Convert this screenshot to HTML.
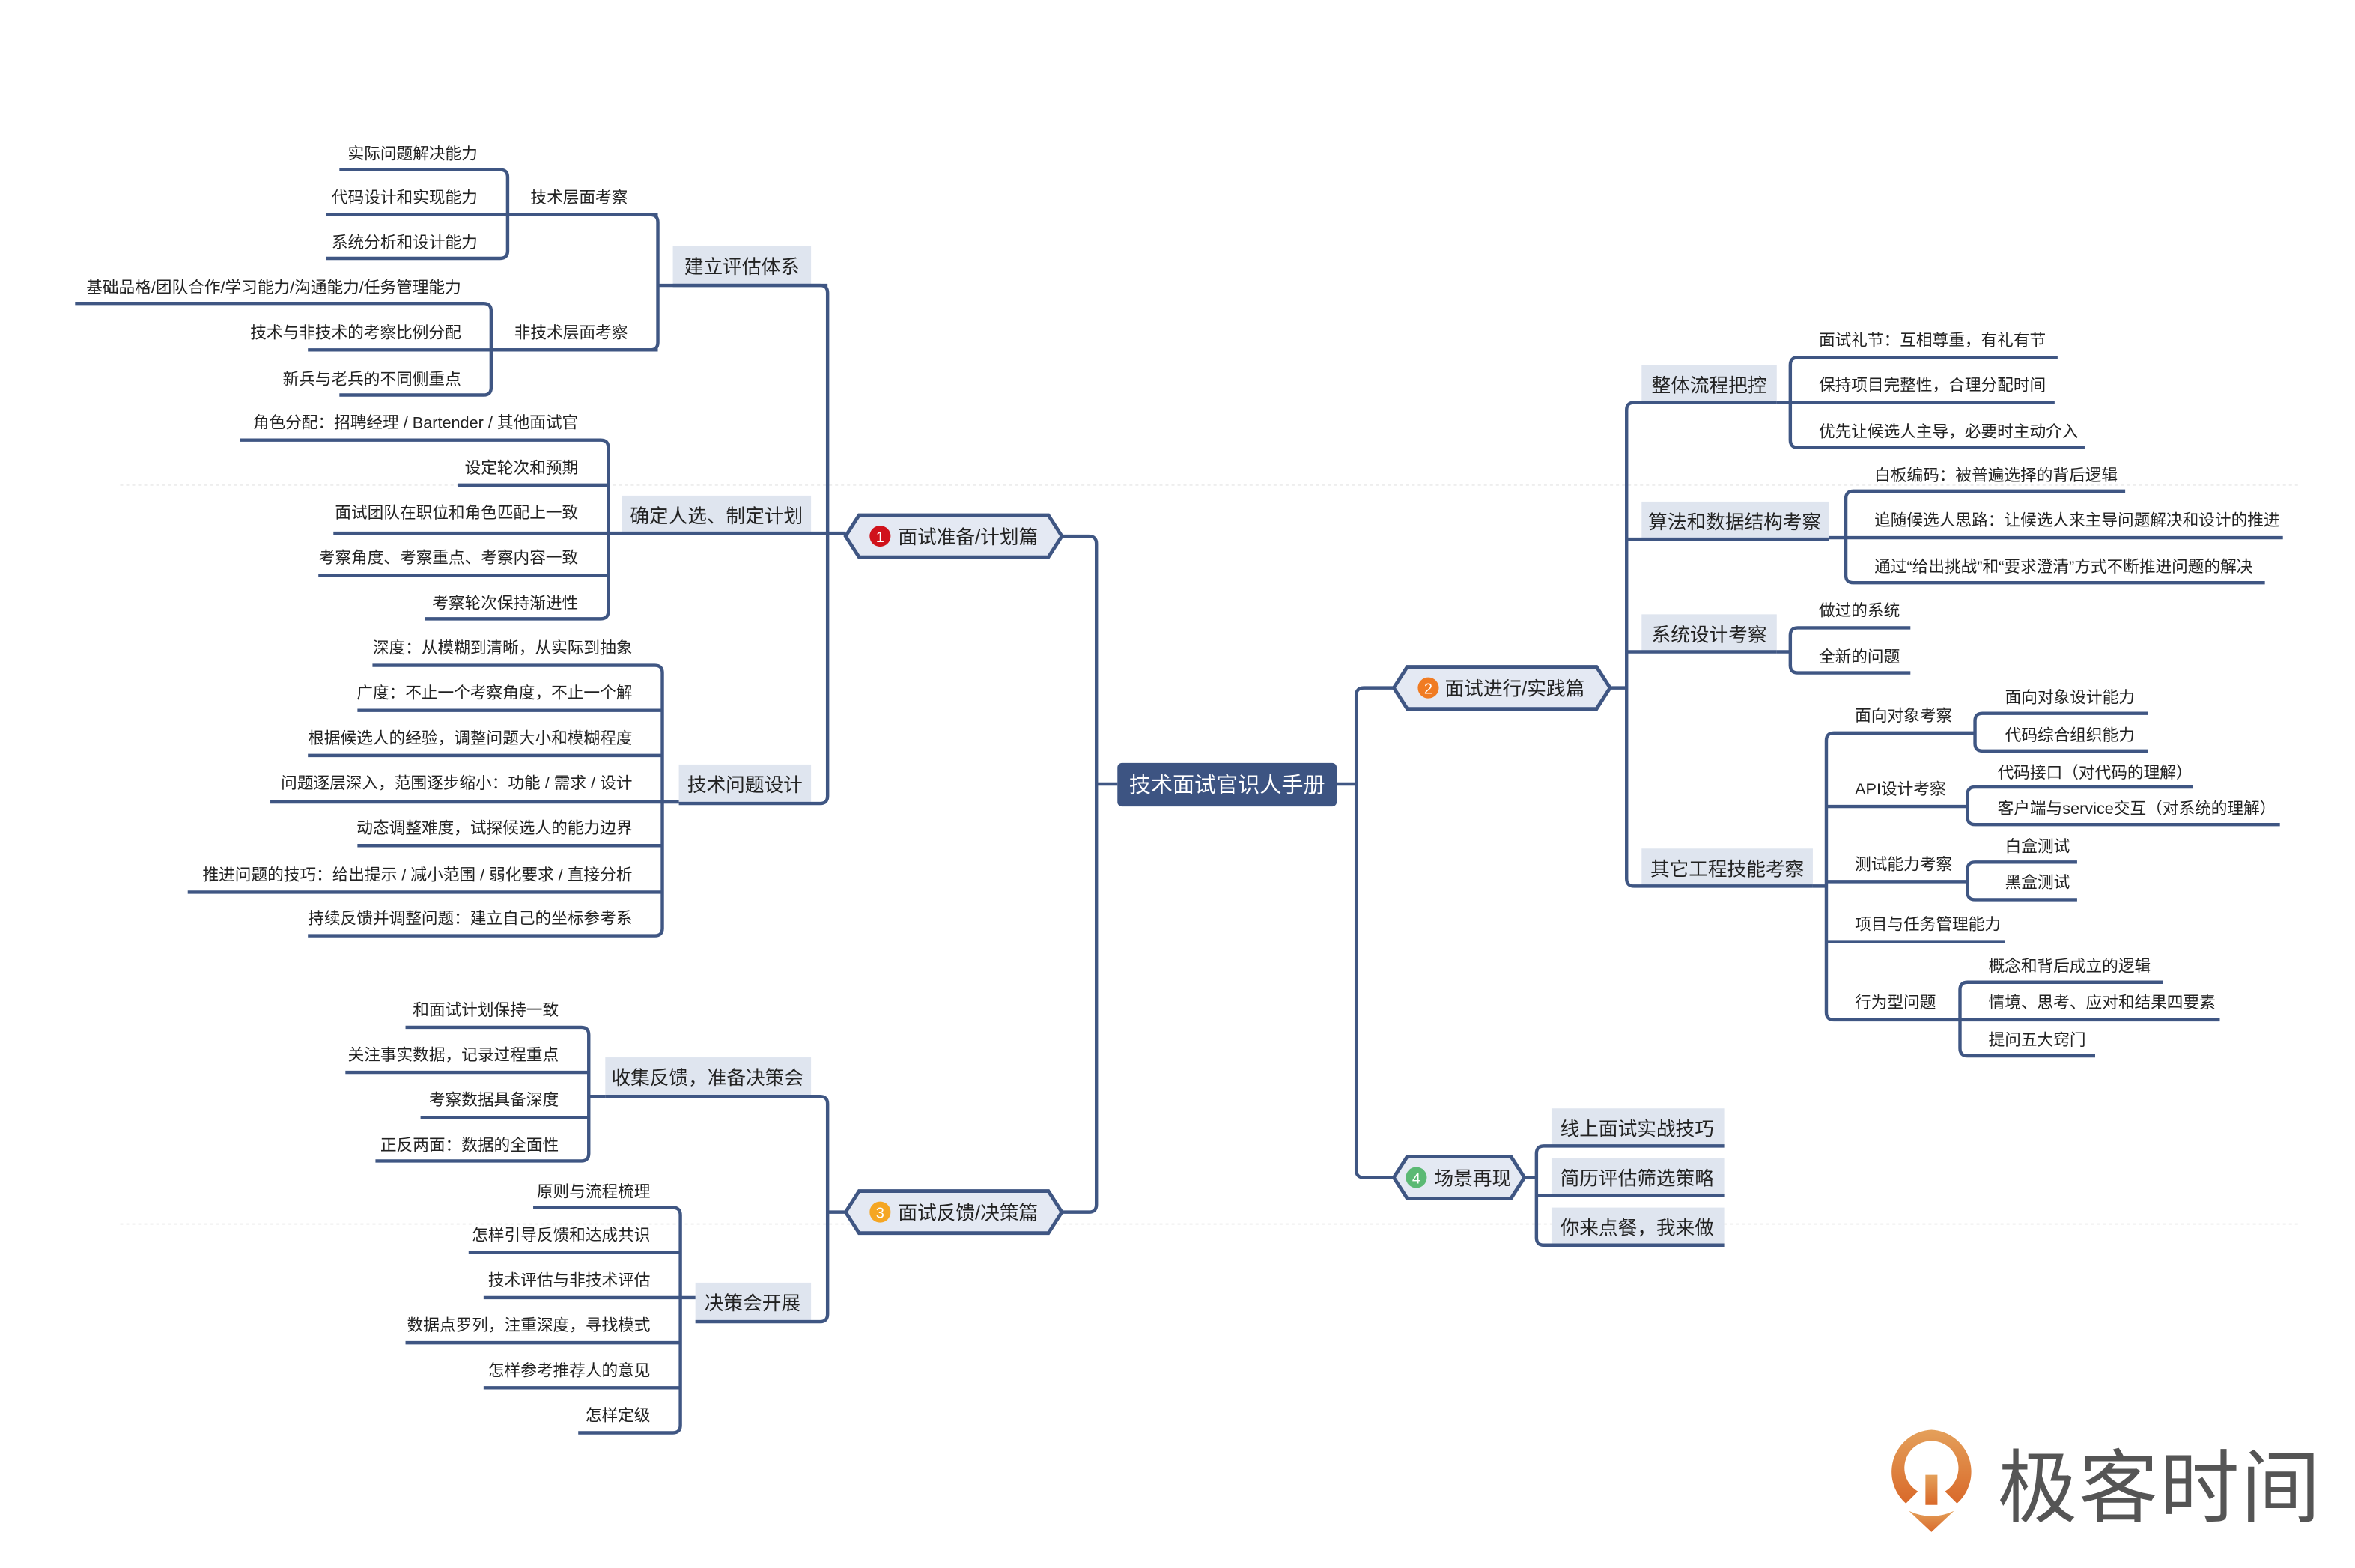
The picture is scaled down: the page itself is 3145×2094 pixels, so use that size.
<!DOCTYPE html>
<html><head><meta charset="utf-8"><style>
html,body{margin:0;padding:0;background:#fff;}
svg{display:block;}
text{font-family:"Liberation Sans","Noto Sans CJK SC",sans-serif;fill:#222;}
.l{font-size:10.8px;}
.b{font-size:12.8px;}
.ln{stroke:#3f5683;stroke-width:2.2;fill:none;}
.bx{fill:#dfe5ef;}
.hx{fill:#e4e9f3;stroke:#3f5683;stroke-width:2.4;}
</style></head><body>
<svg width="3145" height="2094" viewBox="0 0 1568 1044" preserveAspectRatio="none" xmlns="http://www.w3.org/2000/svg">
<line x1="80" y1="323" x2="1530" y2="323" stroke="#eee" stroke-width="1" stroke-dasharray="2,2"/>
<line x1="80" y1="815" x2="1530" y2="815" stroke="#eee" stroke-width="1" stroke-dasharray="2,2"/>

<rect class="bx" x="448" y="164" width="92" height="26"/>
<rect class="bx" x="414" y="330" width="126" height="26"/>
<rect class="bx" x="452" y="509" width="88" height="26"/>
<rect class="bx" x="403" y="704" width="137" height="26"/>
<rect class="bx" x="463" y="854" width="77" height="26"/>
<rect class="bx" x="1093" y="243" width="90" height="25"/>
<rect class="bx" x="1093" y="334" width="125" height="25"/>
<rect class="bx" x="1093" y="409" width="90" height="25"/>
<rect class="bx" x="1093" y="565" width="114" height="25"/>
<rect class="bx" x="1033" y="738" width="115" height="25"/>
<rect class="bx" x="1033" y="771" width="115" height="25"/>
<rect class="bx" x="1033" y="804" width="115" height="25"/>

<g class="ln">
<path d="M226,113 H333 Q338,113 338,118 V167 Q338,172 333,172 H217 M217,143 H438"/>
<path d="M50,202 H322 Q327,202 327,207 V258 Q327,263 322,263 H226 M205,233 H438"/>
<path d="M335,143 H433 Q438,143 438,148 V228 Q438,233 433,233 H328 M438,190 H551"/>
<path d="M448,190 H546 Q551,190 551,195 V530 Q551,535 546,535 H452 M405,355 H563"/>
<path d="M707,357 H725 Q730,357 730,362 V802 Q730,807 725,807 H707 M730,522 H744"/>
<path d="M160,293 H400 Q405,293 405,298 V407 Q405,412 400,412 H283 M305,323 H405 M222,355 H405 M212,383 H405"/>
<path d="M248,443 H436 Q441,443 441,448 V618 Q441,623 436,623 H205 M238,473 H441 M205,503 H441 M180,534 H452 M238,563 H441 M125,594 H441"/>
<path d="M563,807 H551 M403,730 H546 Q551,730 551,735 V875 Q551,880 546,880 H463"/>
<path d="M270,684 H387 Q392,684 392,689 V768 Q392,773 387,773 H250 M230,714 H392 M280,744 H392 M392,730 H403"/>
<path d="M355,804 H448 Q453,804 453,809 V949 Q453,954 448,954 H385 M312,834 H453 M322,864 H463 M270,894 H453 M322,924 H453"/>
<path d="M890,522 H903 M928,458 H908 Q903,458 903,463 V779 Q903,784 908,784 H928"/>
<path d="M1072,458 H1083 M1183,268 H1088 Q1083,268 1083,273 V585 Q1083,590 1088,590 H1207 M1083,359 H1218 M1083,434 H1183"/>
<path d="M1370,238 H1197 Q1192,238 1192,243 V293 Q1192,298 1197,298 H1388 M1183,268 H1368"/>
<path d="M1415,327 H1234 Q1229,327 1229,332 V383 Q1229,388 1234,388 H1508 M1218,358 H1520"/>
<path d="M1272,418 H1197 Q1192,418 1192,423 V443 Q1192,448 1197,448 H1272 M1183,434 H1192"/>
<path d="M1207,590 H1216 M1305,488 H1221 Q1216,488 1216,493 V674 Q1216,679 1221,679 H1305 M1216,537 H1310 M1216,587 H1310 M1216,627 H1335"/>
<path d="M1430,475 H1320 Q1315,475 1315,480 V495 Q1315,500 1320,500 H1430 M1305,488 H1315"/>
<path d="M1460,524 H1315 Q1310,524 1310,529 V544 Q1310,549 1315,549 H1518"/>
<path d="M1383,574 H1315 Q1310,574 1310,579 V594 Q1310,599 1315,599 H1383"/>
<path d="M1440,654 H1310 Q1305,654 1305,659 V698 Q1305,703 1310,703 H1395 M1305,679 H1478"/>
<path d="M1015,784 H1023 M1148,763 H1028 Q1023,763 1023,768 V824 Q1023,829 1028,829 H1148 M1023,796 H1148"/>
</g>

<rect x="744" y="508" width="146" height="29" rx="3" fill="#3d5482"/>
<text x="817" y="527.5" text-anchor="middle" style="font-size:14.5px;fill:#fff">技术面试官识人手册</text>

<polygon class="hx" points="563,357 572,343 698,343 707,357 698,371 572,371"/>
<circle cx="586" cy="357" r="7" fill="#d0121b"/><text x="586" y="361" text-anchor="middle" style="font-size:10px;fill:#fff">1</text>
<text x="598" y="362" class="b">面试准备/计划篇</text>
<polygon class="hx" points="928,458 937,444 1063,444 1072,458 1063,472 937,472"/>
<circle cx="951" cy="458" r="7" fill="#f07b22"/><text x="951" y="462" text-anchor="middle" style="font-size:10px;fill:#fff">2</text>
<text x="962" y="463" class="b">面试进行/实践篇</text>
<polygon class="hx" points="563,807 572,793 698,793 707,807 698,821 572,821"/>
<circle cx="586" cy="807" r="7" fill="#f5a623"/><text x="586" y="811" text-anchor="middle" style="font-size:10px;fill:#fff">3</text>
<text x="598" y="812" class="b">面试反馈/决策篇</text>
<polygon class="hx" points="928,784 937,770 1006,770 1015,784 1006,798 937,798"/>
<circle cx="943" cy="784" r="7" fill="#5bb974"/><text x="943" y="788" text-anchor="middle" style="font-size:10px;fill:#fff">4</text>
<text x="955" y="789" class="b">场景再现</text>

<g class="b" text-anchor="middle">
<text x="494" y="182">建立评估体系</text>
<text x="477" y="348">确定人选、制定计划</text>
<text x="496" y="527">技术问题设计</text>
<text x="471" y="722">收集反馈，准备决策会</text>
<text x="501" y="872">决策会开展</text>
<text x="1138" y="261">整体流程把控</text>
<text x="1155" y="352">算法和数据结构考察</text>
<text x="1138" y="427">系统设计考察</text>
<text x="1150" y="583">其它工程技能考察</text>
<text x="1090" y="756">线上面试实战技巧</text>
<text x="1090" y="789">简历评估筛选策略</text>
<text x="1090" y="822">你来点餐，我来做</text>
</g>

<g class="l" text-anchor="end">
<text x="318" y="106">实际问题解决能力</text>
<text x="318" y="135">代码设计和实现能力</text>
<text x="318" y="165">系统分析和设计能力</text>
<text x="418" y="135">技术层面考察</text>
<text x="307" y="195">基础品格/团队合作/学习能力/沟通能力/任务管理能力</text>
<text x="307" y="225">技术与非技术的考察比例分配</text>
<text x="307" y="256">新兵与老兵的不同侧重点</text>
<text x="418" y="225">非技术层面考察</text>
<text x="385" y="285">角色分配：招聘经理 / Bartender / 其他面试官</text>
<text x="385" y="315">设定轮次和预期</text>
<text x="385" y="345">面试团队在职位和角色匹配上一致</text>
<text x="385" y="375">考察角度、考察重点、考察内容一致</text>
<text x="385" y="405">考察轮次保持渐进性</text>
<text x="421" y="435">深度：从模糊到清晰，从实际到抽象</text>
<text x="421" y="465">广度：不止一个考察角度，不止一个解</text>
<text x="421" y="495">根据候选人的经验，调整问题大小和模糊程度</text>
<text x="421" y="525">问题逐层深入，范围逐步缩小：功能 / 需求 / 设计</text>
<text x="421" y="555">动态调整难度，试探候选人的能力边界</text>
<text x="421" y="586">推进问题的技巧：给出提示 / 减小范围 / 弱化要求 / 直接分析</text>
<text x="421" y="615">持续反馈并调整问题：建立自己的坐标参考系</text>
<text x="372" y="676">和面试计划保持一致</text>
<text x="372" y="706">关注事实数据，记录过程重点</text>
<text x="372" y="736">考察数据具备深度</text>
<text x="372" y="766">正反两面：数据的全面性</text>
<text x="433" y="797">原则与流程梳理</text>
<text x="433" y="826">怎样引导反馈和达成共识</text>
<text x="433" y="856">技术评估与非技术评估</text>
<text x="433" y="886">数据点罗列，注重深度，寻找模式</text>
<text x="433" y="916">怎样参考推荐人的意见</text>
<text x="433" y="946">怎样定级</text>
</g>

<g class="l">
<text x="1211" y="230">面试礼节：互相尊重，有礼有节</text>
<text x="1211" y="260">保持项目完整性，合理分配时间</text>
<text x="1211" y="291">优先让候选人主导，必要时主动介入</text>
<text x="1248" y="320">白板编码：被普遍选择的背后逻辑</text>
<text x="1248" y="350">追随候选人思路：让候选人来主导问题解决和设计的推进</text>
<text x="1248" y="381">通过“给出挑战”和“要求澄清”方式不断推进问题的解决</text>
<text x="1211" y="410">做过的系统</text>
<text x="1211" y="441">全新的问题</text>
<text x="1235" y="480">面向对象考察</text>
<text x="1235" y="529">API设计考察</text>
<text x="1235" y="579">测试能力考察</text>
<text x="1235" y="619">项目与任务管理能力</text>
<text x="1235" y="671">行为型问题</text>
<text x="1335" y="468">面向对象设计能力</text>
<text x="1335" y="493">代码综合组织能力</text>
<text x="1330" y="518">代码接口（对代码的理解）</text>
<text x="1330" y="542">客户端与service交互（对系统的理解）</text>
<text x="1335" y="567">白盒测试</text>
<text x="1335" y="591">黑盒测试</text>
<text x="1324" y="647">概念和背后成立的逻辑</text>
<text x="1324" y="671">情境、思考、应对和结果四要素</text>
<text x="1324" y="696">提问五大窍门</text>
</g>

<defs><linearGradient id="lg" x1="0" y1="0" x2="0" y2="1"><stop offset="0" stop-color="#e4a05a"/><stop offset="1" stop-color="#d9692a"/></linearGradient></defs>
<g transform="translate(0,-18)">
<path d="M1286,970 A28,28 0 0 1 1303,1019 L1295,1011 A18,18 0 1 0 1277,1011 L1269,1019 A28,28 0 0 1 1286,970 Z" fill="url(#lg)"/>
<path d="M1282,1000 L1290,1000 L1290,1020 L1282,1020 Z" fill="url(#lg)"/>
<path d="M1271,1024 Q1286,1031 1301,1024 L1286,1038 Z" fill="url(#lg)"/>
<text x="1330" y="1027" style="font-size:53px;fill:#555;letter-spacing:1px">极客时间</text>
</g>
</svg>
</body></html>
